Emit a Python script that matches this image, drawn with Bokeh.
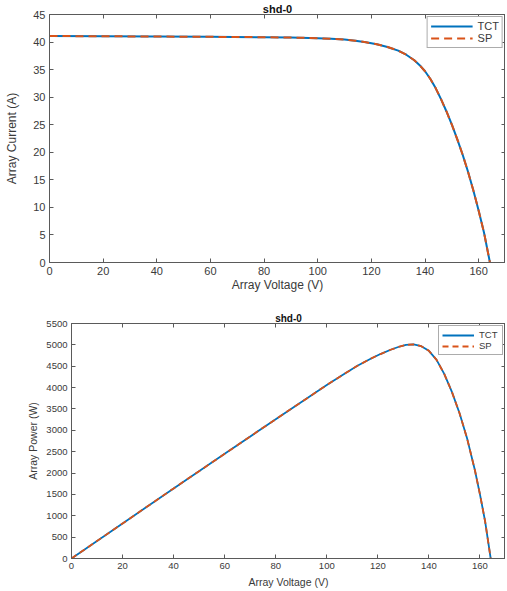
from bokeh.plotting import figure
from bokeh.models import (LinearAxis, SingleIntervalTicker, Legend, LegendItem, Range1d,
                          CustomLabelingPolicy)
from bokeh.layouts import column, row
from bokeh.embed import file_html
from bokeh.resources import INLINE

# ---- data ----
iv_voltage = [0, 20, 40, 60, 80, 90, 100, 105, 110, 114, 118, 122, 126, 130, 133, 136,
              138, 140, 142, 144, 146, 148, 150, 152, 154, 156, 158, 160, 162, 164.2]
iv_current_tct = [41.1, 41.05, 41.0, 40.95, 40.88, 40.82, 40.7, 40.6, 40.45, 40.25, 39.95,
                  39.6, 39.1, 38.45, 37.7, 36.7, 35.8, 34.7, 33.3, 31.6, 29.6, 27.4, 25.0,
                  22.4, 19.6, 16.5, 13.1, 9.4, 5.4, 0]
iv_current_sp = [41.1, 41.05, 41.0, 40.95, 40.88, 40.82, 40.7, 40.6, 40.45, 40.25, 39.95,
                 39.6, 39.1, 38.45, 37.7, 36.7, 35.8, 34.7, 33.3, 31.6, 29.6, 27.4, 25.0,
                 22.4, 19.6, 16.5, 13.1, 9.4, 5.4, 0]

pv_voltage = [0, 20, 40, 60, 80, 100, 106, 112, 117, 121, 125, 128, 131, 134, 137, 140,
              143, 146, 149, 152, 155, 158, 160, 162, 164.2]
pv_power_tct = [0, 820, 1640, 2450, 3260, 4060, 4290, 4510, 4670, 4785, 4885, 4950, 5000,
                5010, 4970, 4860, 4650, 4320, 3900, 3400, 2800, 2070, 1500, 875, 0]
pv_power_sp = [0, 820, 1640, 2450, 3260, 4060, 4290, 4510, 4670, 4785, 4885, 4950, 5000,
               5010, 4970, 4860, 4650, 4320, 3900, 3400, 2800, 2070, 1500, 875, 0]

series_names = ["TCT", "SP"]
title_text = "shd-0"
x_label = "Array Voltage (V)"
y_label_iv = "Array Current (A)"
y_label_pv = "Array Power (W)"

BLUE = "#0072BD"
ORANGE = "#D95319"
AX = "#5a5a5a"
TXT = "#3a3a3a"
FONT = "Liberation Sans"

HIDE_LABELS = CustomLabelingPolicy(code="""
try { for (const i of Array.from(indices)) { indices.unset(i) } } catch (e) {}
return indices
""")


def make_fig(fw, fh, left, top, bottom, xr, yr, xint, yint, fs, lfs, tfs,
             tick_standoff, xlab_standoff, ylab_standoff):
    p = figure(frame_width=fw, frame_height=fh, output_backend="svg", toolbar_location=None,
               x_range=Range1d(*xr), y_range=Range1d(*yr),
               min_border_left=left, min_border_right=0, min_border_top=top,
               min_border_bottom=bottom, title=title_text)
    p.title.align = "center"
    p.title.text_font = FONT
    p.title.text_font_style = "bold"
    p.title.text_font_size = tfs
    p.title.text_color = "#111111"
    p.title.standoff = 0
    p.title.offset = 0
    p.xgrid.visible = False
    p.ygrid.visible = False
    p.outline_line_color = AX
    p.outline_line_width = 1
    p.outline_line_alpha = 1
    for ax, interval in ((p.xaxis[0], xint), (p.yaxis[0], yint)):
        ax.ticker = SingleIntervalTicker(interval=interval)
        ax.major_tick_in = 4
        ax.major_tick_out = 0
        ax.minor_tick_in = 0
        ax.minor_tick_out = 0
        ax.axis_line_color = AX
        ax.major_tick_line_color = AX
        ax.major_label_text_font = FONT
        ax.major_label_text_font_size = fs
        ax.major_label_text_color = TXT
        ax.axis_label_text_font = FONT
        ax.axis_label_text_font_size = lfs
        ax.axis_label_text_font_style = "normal"
        ax.axis_label_text_color = TXT
        ax.major_label_standoff = tick_standoff
    p.xaxis[0].axis_label = x_label
    p.xaxis[0].axis_label_standoff = xlab_standoff
    p.yaxis[0].axis_label_standoff = ylab_standoff
    for loc, interval in (("above", xint), ("right", yint)):
        a = LinearAxis(ticker=SingleIntervalTicker(interval=interval),
                       major_label_policy=HIDE_LABELS,
                       major_label_text_font_size="0px", major_label_standoff=0,
                       major_tick_in=4, major_tick_out=0, minor_tick_in=0, minor_tick_out=0,
                       axis_line_color=None, major_tick_line_color=AX)
        p.add_layout(a, loc)
    return p


def add_lines(p, x, y1, y2, lw, dash, glyph_w, leg_fs, pad, row_h):
    r1 = p.line(x, y1, line_color=BLUE, line_width=lw, line_join="round")
    r2 = p.line(x, y2, line_color=ORANGE, line_width=lw, line_dash=dash, line_join="round")
    leg = Legend(items=[LegendItem(label=series_names[0], renderers=[r1]),
                        LegendItem(label=series_names[1], renderers=[r2])],
                 location="top_right")
    leg.border_line_color = AX
    leg.border_line_width = 1
    leg.background_fill_color = "white"
    leg.background_fill_alpha = 1
    leg.label_text_font = FONT
    leg.label_text_font_size = leg_fs
    leg.label_text_color = TXT
    leg.glyph_width = glyph_w
    leg.glyph_height = row_h
    leg.label_height = row_h
    leg.spacing = 0
    leg.padding = pad
    leg.margin = 2
    leg.label_standoff = 5
    p.add_layout(leg, "center")


p1 = make_fig(456, 248, 49, 0, 27, (0, 170), (0, 45), 20, 5, "11px", "12px", "11px",
              4, 0, 11)
p1.yaxis[0].axis_label = y_label_iv
add_lines(p1, iv_voltage, iv_current_tct, iv_current_sp, 2, "8 5", 42, "11px", 3, 10)

p2 = make_fig(434, 235, 71, 29, 30, (0, 170), (0, 5500), 20, 500, "9.5px", "10.5px", "10px",
              4, 4, 4)
p2.yaxis[0].axis_label = y_label_pv
add_lines(p2, pv_voltage, pv_power_tct, pv_power_sp, 1.8, "6 4", 32, "9.5px", 3, 10)

layout = column(row(p1), row(p2))
open("out.html", "w").write(file_html(layout, INLINE))
